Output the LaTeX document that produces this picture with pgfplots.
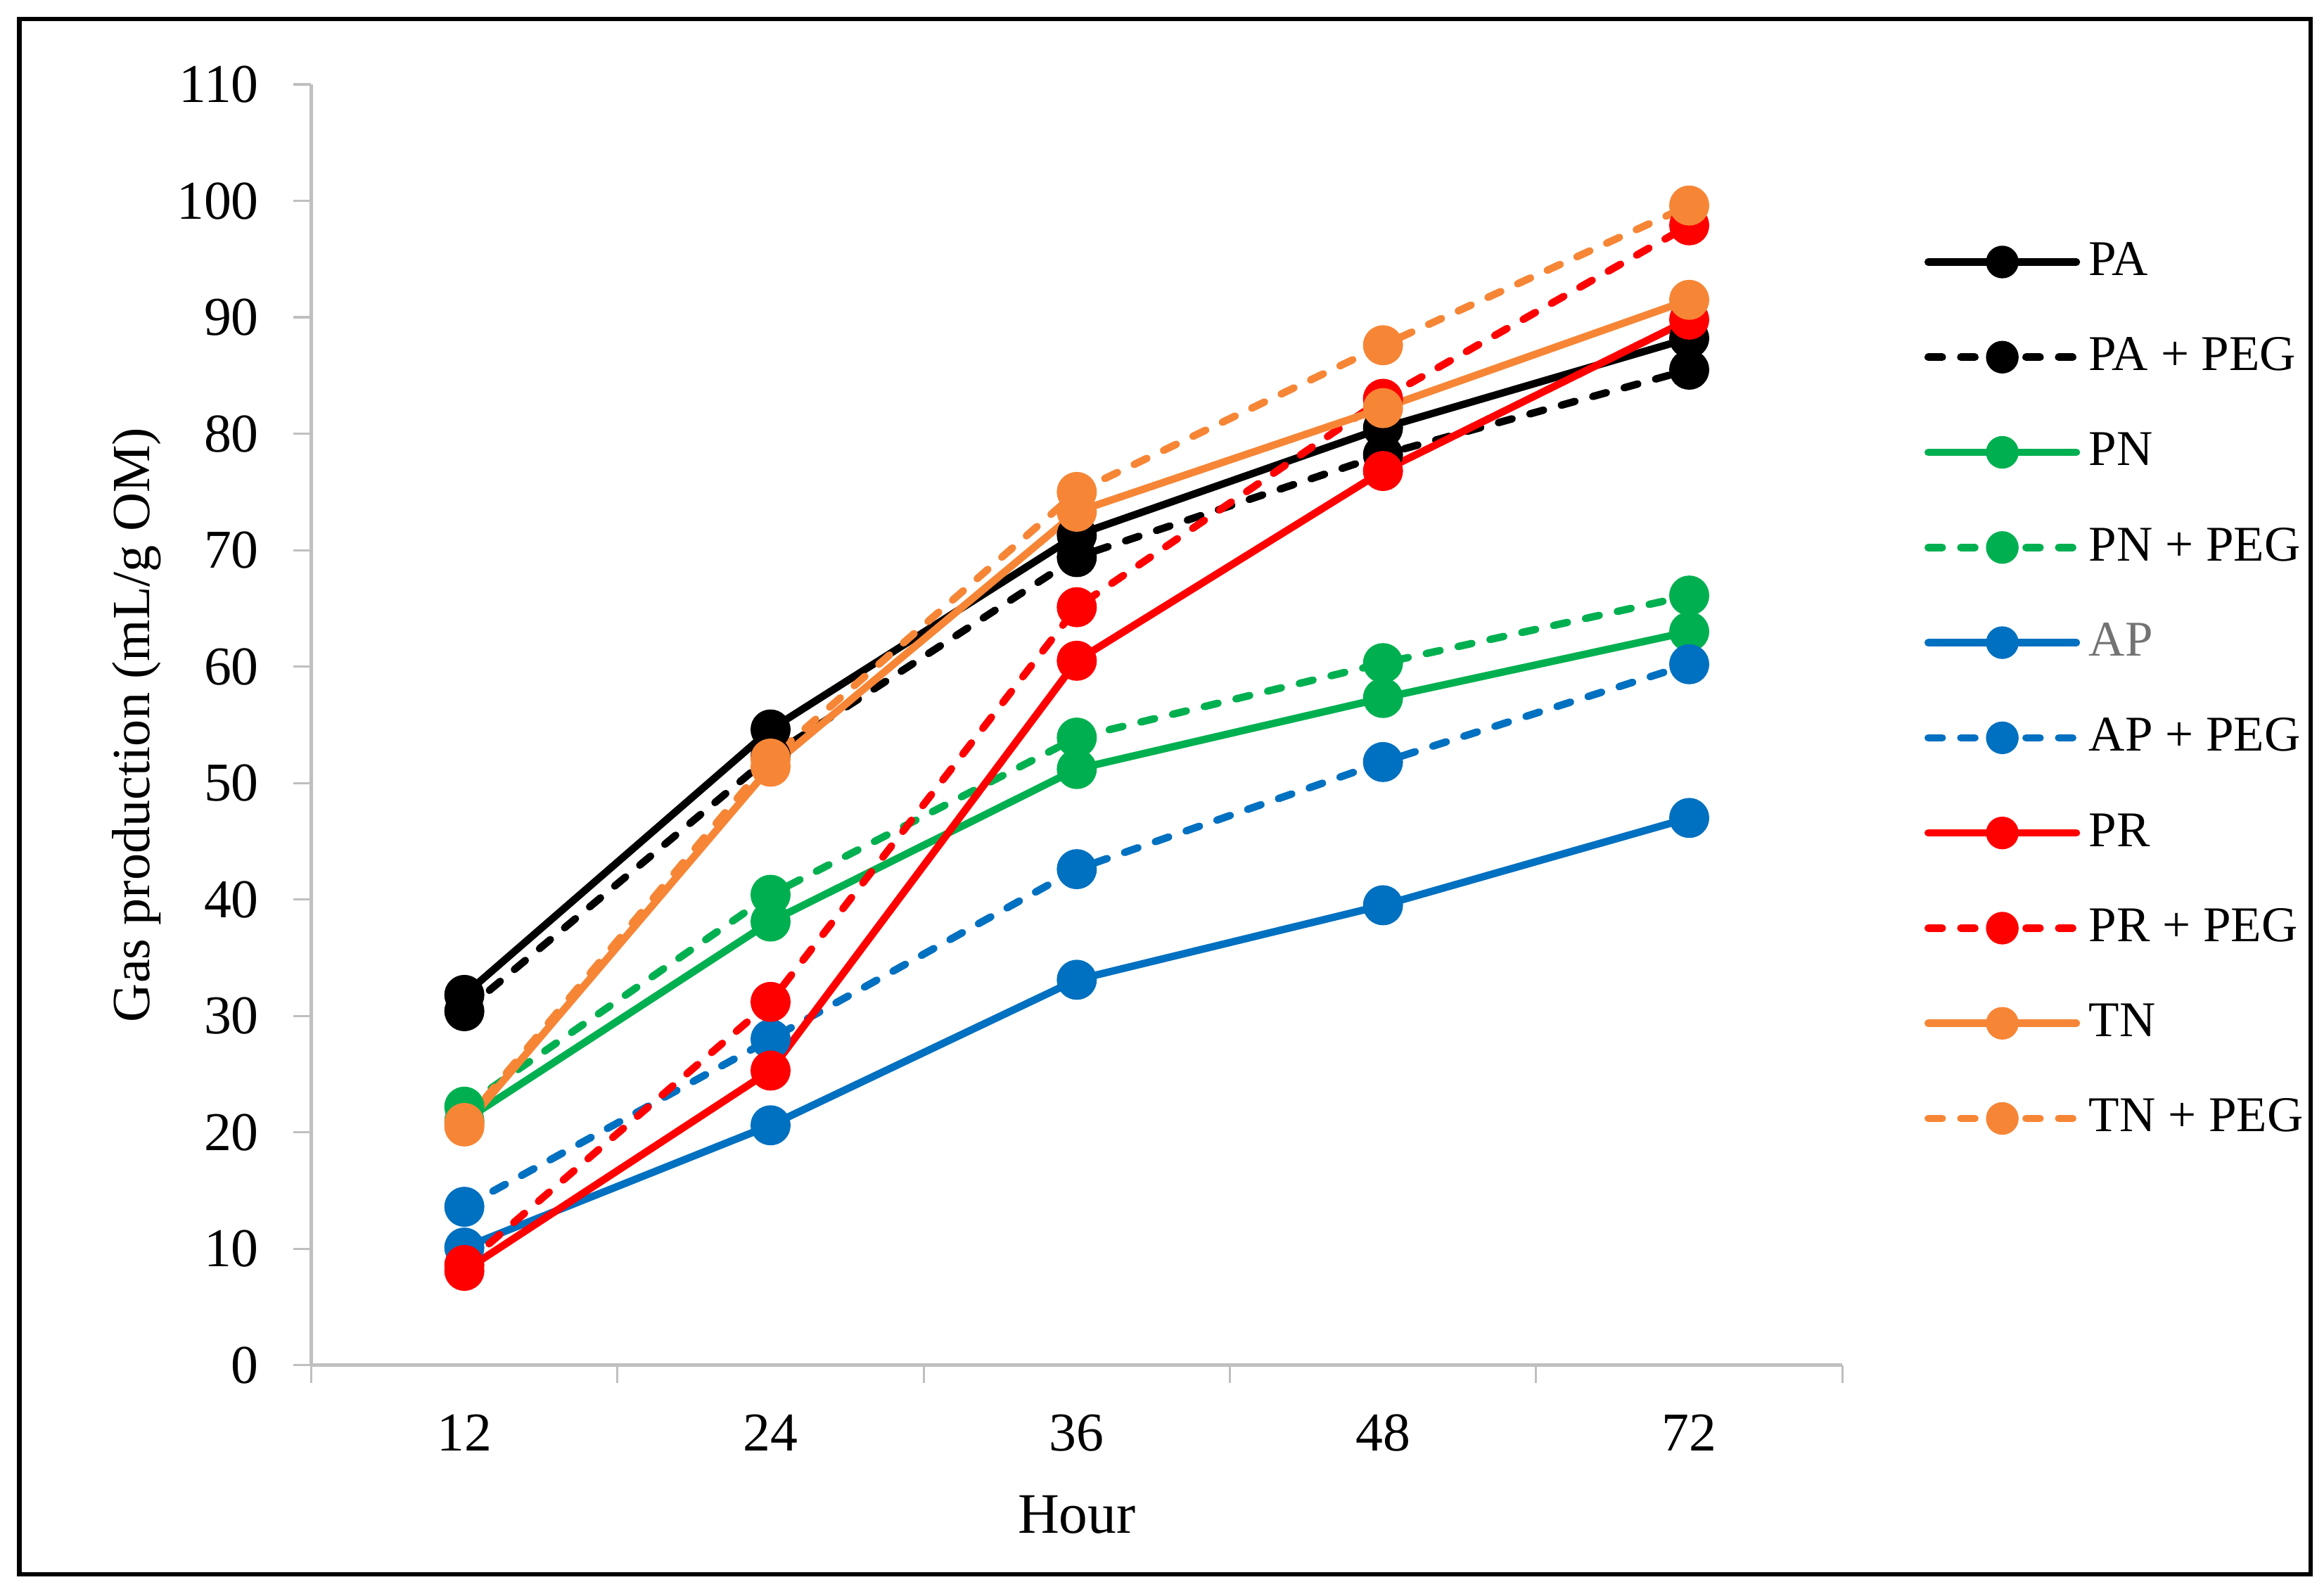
\documentclass[border=0pt]{standalone}
\usepackage{fontspec}
\setmainfont{Liberation Serif}
\usepackage{pgfplots}
\usepackage{pgfplotstable}
\pgfplotsset{compat=1.18}

\definecolor{cgreen}{RGB}{0,176,80}
\definecolor{cblue}{RGB}{0,112,192}
\definecolor{cred}{RGB}{255,0,0}
\definecolor{corange}{RGB}{246,134,54}
\definecolor{axgray}{RGB}{191,191,191}

% gas production, mL/g OM, hours 12 24 36 48 72 at x = 0..4
\pgfplotstableread{
x PA PAPEG PN PNPEG AP APPEG PR PRPEG TN TNPEG
0 31.8 30.4 21.0 22.2 10.1 13.6 8.1 8.6 20.5 20.8
1 54.6 52.3 38.1 40.4 20.6 28.0 25.3 31.2 51.4 52.1
2 71.3 69.4 51.2 53.9 33.1 42.6 60.5 65.1 73.3 75.0
3 80.5 78.2 57.3 60.3 39.5 51.8 76.8 83.0 82.2 87.6
4 88.2 85.5 63.0 66.1 47.0 60.2 89.8 97.9 91.5 99.6
}\gasdata

\begin{document}
\begin{tikzpicture}
\path[use as bounding box] (0,0) rectangle (156.8mm,107.5mm);
\draw[line width=0.3mm] (1.3mm,1.3mm) rectangle (155.9mm,106.2mm);
\begin{axis}[
  at={(21mm,15.4mm)}, anchor=south west,
  scale only axis, width=103.3mm, height=86.4mm,
  axis x line=bottom, axis y line=left,
  axis line style={-, draw=axgray, line width=0.25mm},
  xmin=-0.5, xmax=4.5, ymin=0, ymax=110,
  xtick={0,...,4}, xticklabels={12,24,36,48,72},
  minor xtick={-0.5,0.5,...,4.5},
  major x tick style={draw=none},
  minor x tick style={draw=axgray, line width=0.15mm},
  ytick={0,10,...,110},
  major y tick style={draw=axgray, line width=0.15mm},
  tick align=outside, major tick length=1.2mm, minor tick length=1.2mm,
  /pgf/number format/assume math mode=true,
  tick label style={font=\fontsize{10.5}{12}\selectfont},
  xticklabel style={yshift=-0.9mm},
  yticklabel style={xshift=-1.1mm},
  xlabel={Hour}, ylabel={Gas production (mL/g OM)},
  xlabel style={font=\fontsize{11}{12}\selectfont, at={(axis description cs:0.5,-0.117)}, anchor=center},
  ylabel style={font=\fontsize{10.3}{12}\selectfont, at={(axis description cs:-0.114,0.5)}, anchor=center},
  every axis plot/.append style={line width=0.5mm, mark=*, mark size=1.1mm, line cap=round,
    mark options={solid}},
  legend style={at={(axis description cs:1.053,0.527)}, anchor=west, draw=none, fill=none,
    font=\fontsize{9.6}{11}\selectfont, row sep=2.22mm, inner sep=0pt,
    nodes={inner sep=0.6mm, text height=2.4mm, text depth=0.6mm}},
  legend cell align=left,
  legend image code/.code={\draw[#1, mark size=0.85mm, mark repeat=2, mark phase=2]
    plot coordinates {(0mm,0mm) (5mm,0mm) (10mm,0mm)};},
  pegdash/.style={dash pattern=on 0.95mm off 1.25mm},
]
\addplot[black] table[x=x,y=PA] {\gasdata};
\addlegendentry{PA}
\addplot[black, pegdash] table[x=x,y=PAPEG] {\gasdata};
\addlegendentry{PA + PEG}
\addplot[cgreen] table[x=x,y=PN] {\gasdata};
\addlegendentry{PN}
\addplot[cgreen, pegdash] table[x=x,y=PNPEG] {\gasdata};
\addlegendentry{PN + PEG}
\addplot[cblue] table[x=x,y=AP] {\gasdata};
\addlegendentry{\textcolor{black!55}{AP}}
\addplot[cblue, pegdash] table[x=x,y=APPEG] {\gasdata};
\addlegendentry{AP + PEG}
\addplot[cred] table[x=x,y=PR] {\gasdata};
\addlegendentry{PR}
\addplot[cred, pegdash] table[x=x,y=PRPEG] {\gasdata};
\addlegendentry{PR + PEG}
\addplot[corange] table[x=x,y=TN] {\gasdata};
\addlegendentry{TN}
\addplot[corange, pegdash] table[x=x,y=TNPEG] {\gasdata};
\addlegendentry{TN + PEG}
\end{axis}
\end{tikzpicture}
\end{document}
